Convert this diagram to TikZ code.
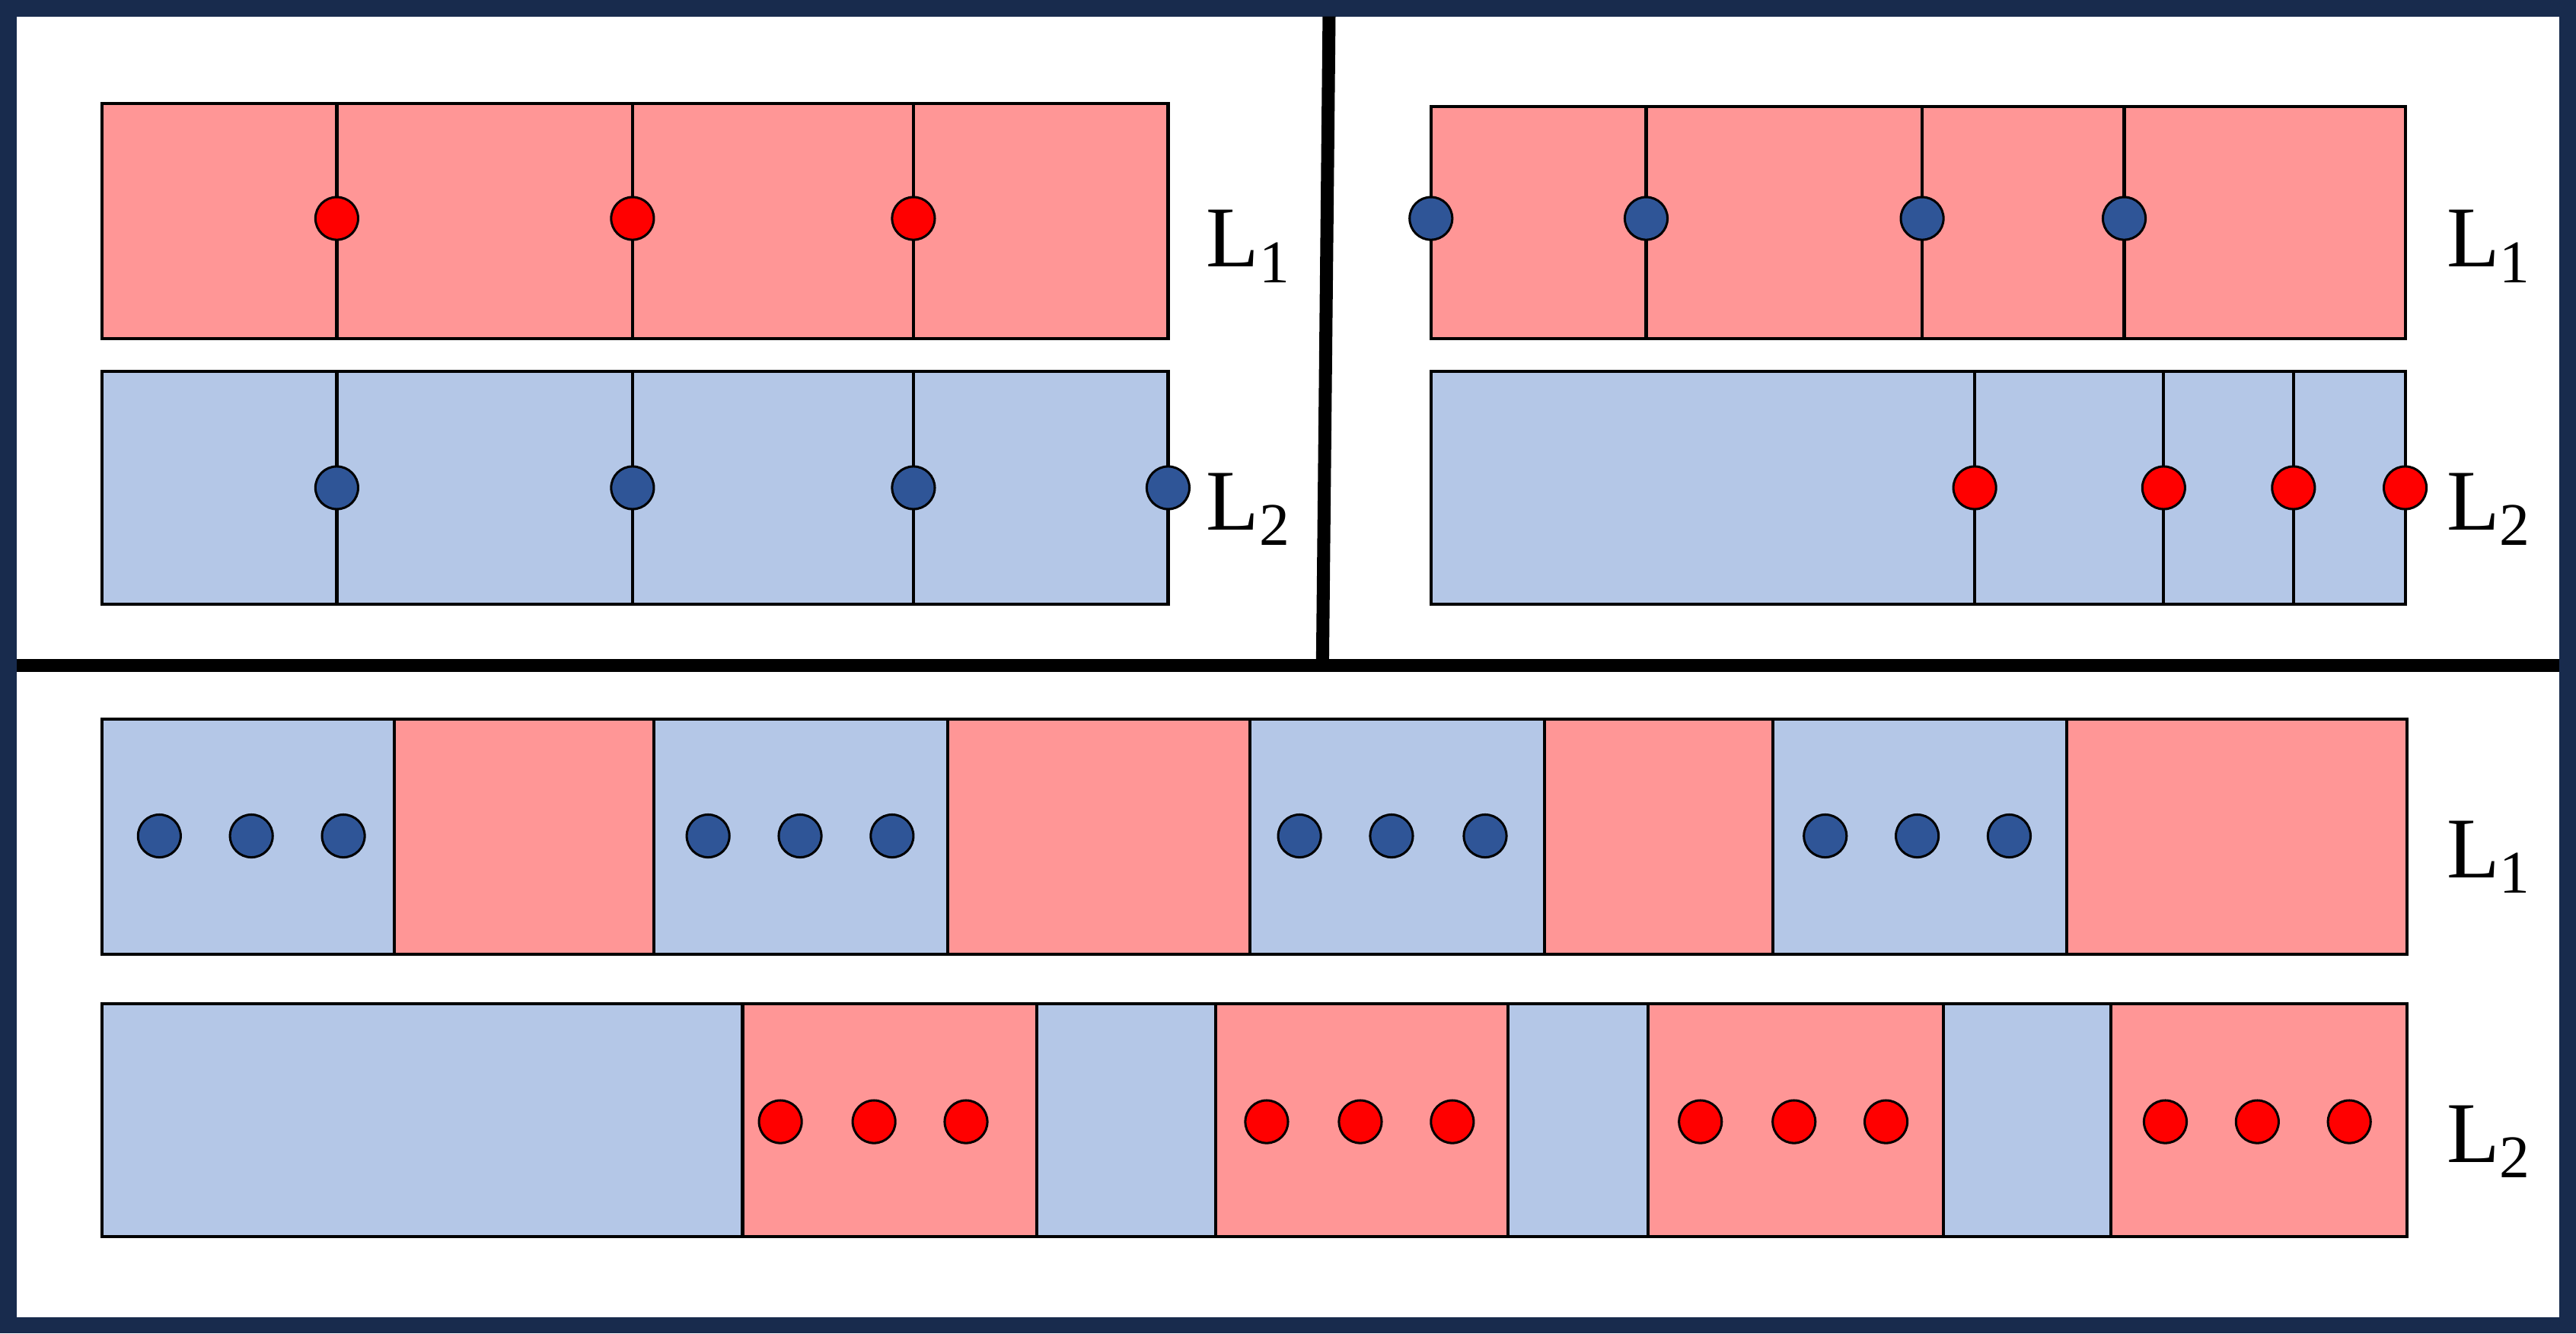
\documentclass[tikz,border=0pt]{standalone}
\usepackage{fontspec}
\setmainfont{Liberation Serif}
\definecolor{rosa}{RGB}{255,150,150}
\definecolor{hellblau}{RGB}{180,199,231}
\definecolor{dunkelblau}{RGB}{47,85,151}
\definecolor{rahmen}{RGB}{24,43,77}
\tikzset{
	rot/.style={draw=black, line width=1.1pt, fill=rosa},
	blau/.style={draw=black, line width=1.1pt, fill=hellblau},
	teiler/.style={draw=black, line width=1.1pt},
	rpunkt/.style={circle, draw=black, line width=0.8pt, fill=red, minimum size=0.52cm, inner sep=0pt},
	bpunkt/.style={circle, draw=black, line width=0.8pt, fill=dunkelblau, minimum size=0.52cm, inner sep=0pt},
	ebene/.style={font=\fontsize{30}{36}\selectfont}
}
\begin{document}
\begin{tikzpicture}[x=0.02cm, y=-0.02cm]
	\useasboundingbox (0,0) rectangle (1568,812);
	% Rahmen und Trennlinien
	\draw[rahmen, line width=5.7pt] (5,5) rectangle (1563,807);
	\draw[line width=4.5pt] (10,405) -- (1558,405);
	\draw[line width=4.5pt] (809,10) -- (805,405);
	% oben links
	\filldraw[rot] (62,63) rectangle (711,206);
	\filldraw[blau] (62,226) rectangle (711,368);
	\foreach \x in {205,385,556} {
		\draw[teiler] (\x,63) -- (\x,206);
		\draw[teiler] (\x,226) -- (\x,368);
		\node[rpunkt] (ol1-\x) at (\x,133) {};
	}
	\foreach \x in {205,385,556,711}
		\node[bpunkt] (ol2-\x) at (\x,297) {};
	\node[ebene] (oll1) at (760,150) {L\textsubscript{1}};
	\node[ebene] (oll2) at (760,310) {L\textsubscript{2}};
	% oben rechts
	\filldraw[rot] (871,65) rectangle (1464,206);
	\filldraw[blau] (871,226) rectangle (1464,368);
	\foreach \x in {1002,1170,1293}
		\draw[teiler] (\x,65) -- (\x,206);
	\foreach \x in {1202,1317,1396}
		\draw[teiler] (\x,226) -- (\x,368);
	\foreach \x in {871,1002,1170,1293}
		\node[bpunkt] (or1-\x) at (\x,133) {};
	\foreach \x in {1202,1317,1396,1464}
		\node[rpunkt] (or2-\x) at (\x,297) {};
	\node[ebene] (orl1) at (1515,150) {L\textsubscript{1}};
	\node[ebene] (orl2) at (1515,310) {L\textsubscript{2}};
	% unten L1
	\foreach \a/\b/\s in {62/240/blau, 240/398/rot, 398/577/blau, 577/761/rot, 761/940/blau, 940/1079/rot, 1079/1258/blau, 1258/1465/rot}
		\filldraw[\s] (\a,438) rectangle (\b,581);
	\foreach \x in {97,153,209,431,487,543,791,847,904,1111,1167,1223}
		\node[bpunkt] (u1-\x) at (\x,509) {};
	% unten L2
	\foreach \a/\b/\s in {62/452/blau, 452/631/rot, 631/740/blau, 740/918/rot, 918/1003/blau, 1003/1183/rot, 1183/1285/blau, 1285/1465/rot}
		\filldraw[\s] (\a,611) rectangle (\b,753);
	\foreach \x in {475,532,588,771,828,884,1035,1092,1148,1318,1374,1430}
		\node[rpunkt] (u2-\x) at (\x,683) {};
	\node[ebene] (ul1) at (1515,522) {L\textsubscript{1}};
	\node[ebene] (ul2) at (1515,695) {L\textsubscript{2}};
\end{tikzpicture}
\end{document}
